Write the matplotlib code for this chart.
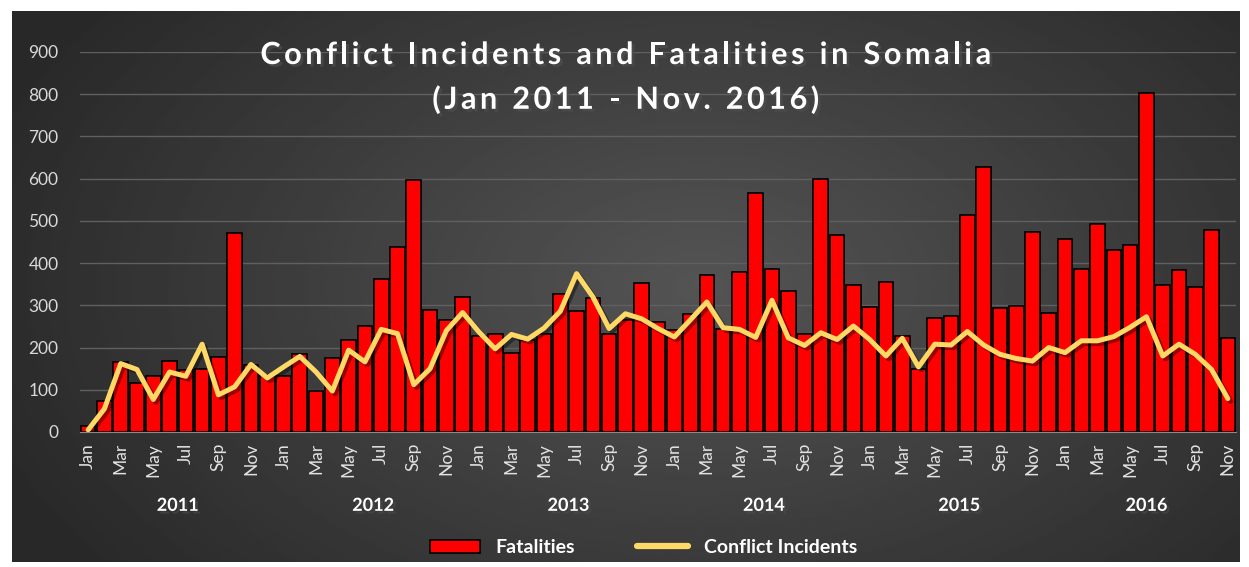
import numpy as np
import matplotlib
matplotlib.use('Agg')
import matplotlib.pyplot as plt
import matplotlib.patheffects as pe
import matplotlib.transforms as mtransforms
from matplotlib.patches import Patch
from matplotlib.lines import Line2D

months = ['Jan', 'Feb', 'Mar', 'Apr', 'May', 'Jun',
          'Jul', 'Aug', 'Sep', 'Oct', 'Nov', 'Dec']
years = ['2011', '2012', '2013', '2014', '2015', '2016']

# monthly values, Jan 2011 - Nov 2016
fatalities = [15, 73, 166, 115, 132, 167, 146, 150, 178, 471, 158, 134,
              132, 185, 97, 176, 217, 251, 362, 438, 597, 288, 265, 320,
              227, 231, 187, 218, 231, 328, 286, 318, 231, 265, 354, 260,
              241, 280, 372, 245, 378, 566, 386, 335, 233, 600, 466, 348,
              295, 356, 227, 150, 269, 275, 514, 627, 293, 298, 473, 283,
              458, 386, 492, 432, 443, 802, 348, 383, 343, 479, 222]
incidents = [5, 55, 162, 148, 77, 142, 132, 208, 88, 107, 160, 128,
             154, 179, 142, 97, 194, 166, 243, 233, 112, 150, 240, 283,
             237, 197, 231, 220, 246, 286, 375, 320, 245, 280, 268, 245,
             225, 266, 308, 247, 243, 224, 312, 223, 205, 235, 219, 251,
             219, 180, 222, 154, 208, 206, 238, 206, 184, 174, 168, 200,
             188, 216, 216, 226, 248, 273, 180, 208, 184, 148, 79]

plt.rcParams['font.family'] = ['Lato', 'DejaVu Sans']

W, H = 1249, 567


def spaced_text(fig, s, xc, y, gap_px, **kw):
    # matplotlib has no letter-spacing, so lay the characters out one by one
    r = fig.canvas.get_renderer()
    widths = []
    for ch in s:
        t = fig.text(0, 0, ch.replace(' ', 'i'), **kw)
        widths.append(t.get_window_extent(r).width)
        t.remove()
    total = sum(widths) + gap_px * (len(s) - 1)
    xp = xc * W - total / 2
    for ch, w in zip(s, widths):
        if ch != ' ':
            fig.text(xp / W, y, ch, ha='left', va='center', **kw)
        xp += w + gap_px


n = len(fatalities)
x = np.arange(n)
month_labels = [months[i % 12] for i in range(n)]

fig = plt.figure(figsize=(W / 100, H / 100), dpi=100, facecolor='white')

# dark gradient background panel
bg = fig.add_axes([12 / W, 5 / H, 1228 / W, 551 / H])
gx, gy = np.meshgrid(np.linspace(0, 1, 400), np.linspace(0, 1, 200))
r = np.sqrt(((gx - 0.56) / 0.62) ** 2 + ((gy - 0.5) / 0.85) ** 2)
shade = 0.33 - 0.17 * np.clip(r, 0, 1)
bg.imshow(shade, cmap='gray', vmin=0, vmax=1, extent=[0, 1, 0, 1],
          aspect='auto', origin='lower')
bg.axis('off')

ax = fig.add_axes([80 / W, 135 / H, 1156 / W, 380 / H])
ax.patch.set_alpha(0)

shadow = [pe.SimplePatchShadow(offset=(2, -2), alpha=0.5), pe.Normal()]
ax.bar(x, fatalities, width=0.9, color='#ff0000', edgecolor='black',
       linewidth=1.2, zorder=2, label='Fatalities')
ax.plot(x, incidents, color='#ffd966', lw=3.6, zorder=3,
        solid_joinstyle='round', solid_capstyle='round',
        path_effects=[pe.SimpleLineShadow(offset=(2, -2), alpha=0.4), pe.Normal()])

ax.set_xlim(-0.5, n - 0.5)
ax.set_ylim(0, 900)
ax.set_yticks(range(0, 901, 100))
ax.grid(axis='y', color='#606060', lw=1, zorder=0)
ax.set_axisbelow(True)
for s in ['top', 'right', 'left']:
    ax.spines[s].set_visible(False)
ax.spines['bottom'].set_color('#8a8a8a')
ax.spines['bottom'].set_zorder(4)

ax.set_xticks(x[::2])
ax.set_xticklabels(month_labels[::2], rotation=90, color='#e3e3e3', fontsize=12.5)
ax.tick_params(axis='x', length=0, pad=8)
ax.tick_params(axis='y', length=0, pad=15.5, labelcolor='#d9d9d9', labelsize=12.5)

trans = mtransforms.blended_transform_factory(ax.transData, ax.transAxes)
for i, yr in enumerate(years):
    start = 12 * i
    end = min(12 * i + 11, n - 1)
    ax.text((start + end) / 2, -0.193, yr, transform=trans, ha='center',
            va='center', color='white', fontsize=13, fontweight='bold',
            path_effects=shadow)

title_kw = dict(color='white', fontsize=22, fontweight='bold',
                path_effects=[pe.SimplePatchShadow(offset=(2, -2), alpha=0.7), pe.Normal()])
spaced_text(fig, 'Conflict Incidents and Fatalities in Somalia', 0.501, 0.903, 3.6, **title_kw)
spaced_text(fig, '(Jan 2011 - Nov. 2016)', 0.501, 0.824, 3.6, **title_kw)

handles = [Patch(facecolor='#ff0000', edgecolor='black', linewidth=1.2),
           Line2D([0], [0], color='#ffd966', lw=4.5, solid_capstyle='round')]
leg = fig.legend(handles, ['Fatalities', 'Conflict Incidents'], loc='center',
                 bbox_to_anchor=(0.515, 0.034), ncol=2, frameon=False,
                 handlelength=2.6, columnspacing=3.2, handletextpad=0.8,
                 prop={'size': 14, 'weight': 'bold'})
for t in leg.get_texts():
    t.set_color('white')

fig.savefig('out.png', dpi=100, facecolor='white')
